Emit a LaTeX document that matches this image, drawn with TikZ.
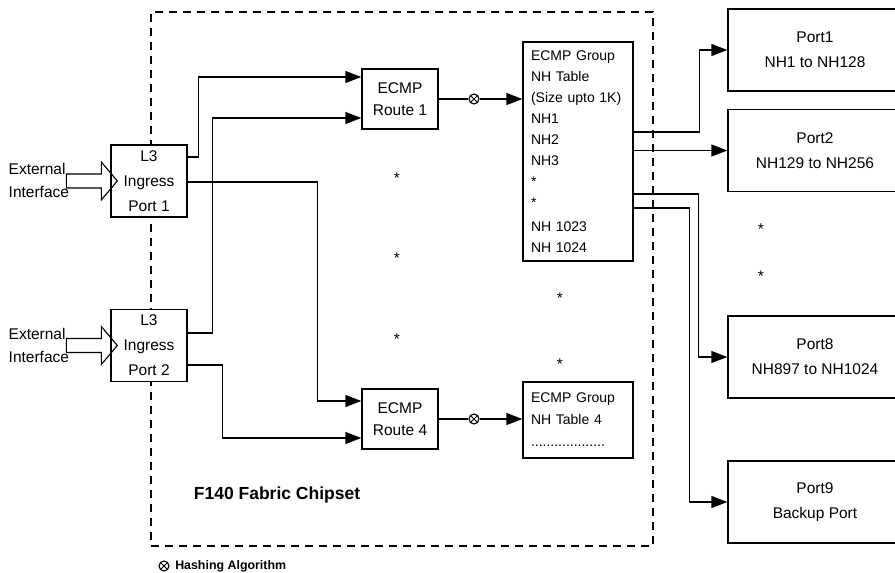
\documentclass[tikz,border=0pt]{standalone}
\usepackage{fontspec}
\setmainfont{Liberation Sans}
\usetikzlibrary{positioning, arrows.meta, calc}
\newcommand{\fsz}[2]{\fontsize{#1}{#2}\selectfont}
\newcommand{\extarrow}[1]{
  \draw[line width=1.1pt] ($(#1.west)+(-44,-7)$) -- ++(35,0) -- ++(0,-12) -- ($(#1.west)+(7,0)$)
    -- ++(-16,19) -- ++(0,-12) -- ++(-35,0) -- cycle;
}

\begin{document}
\begin{tikzpicture}[
    x=1pt, y=-1pt,
    line width=1.4pt,
    >={Triangle[length=16pt,width=12pt]},
    box/.style={draw, fill=white, line width=1.4pt, inner sep=0pt, align=center, font=\fsz{15.5}{25}},
    ingress/.style={box, minimum width=76pt, minimum height=72pt},
    route/.style={box, minimum width=76pt, minimum height=60pt, font=\fsz{15.5}{22}},
    nhtable/.style={box, align=left, text width=94pt, inner xsep=8pt, font=\fsz{14}{21}},
    port/.style={box, minimum width=174pt, minimum height=82pt},
    hash/.style={draw, fill=white, circle, line width=1.1pt, minimum size=10pt, inner sep=0pt,
      path picture={\draw[line width=0.9pt] (path picture bounding box.north west) -- (path picture bounding box.south east)
        (path picture bounding box.north east) -- (path picture bounding box.south west);}},
    lbl/.style={font=\fsz{15.5}{23}, align=left, inner sep=0pt},
    etc/.style={font=\fsz{15.5}{16}, inner sep=0pt},
    chipframe/.style={draw, line width=1.4pt, dash pattern=on 8pt off 6pt, minimum width=502pt, minimum height=534pt},
    arrow/.style={->},
]
\clip (0,0) rectangle (895,573);

% ------------------------------------------------------------- chipset ---
\node[chipframe] (chip) at (402,279) {};
\node[font=\bfseries\fsz{17.5}{20}] (chiplbl) at (277,495) {F140 Fabric Chipset};

% ------------------------------------------------------ ingress ports ---
\node[ingress] (in1) at (149,181) {L3\\Ingress\\Port 1};
\node[ingress] (in2) at (149,345.5) {L3\\Ingress\\Port 2};
\extarrow{in1}
\extarrow{in2}
\node[lbl, anchor=west] (ext1) at (8,180.5) {External\\Interface};
\node[lbl, anchor=west] (ext2) at (8,345) {External\\Interface};

% -------------------------------------------------------- ECMP routes ---
\node[route] (r1) at (400,99) {ECMP\\Route 1};
\node[route] (r4) at (400,419) {ECMP\\Route 4};
\node[etc] (e1) at (397,178) {*};
\node[etc] (e2) at (397,258) {*};
\node[etc] (e3) at (397,339) {*};

\draw[arrow] ([yshift=24pt]in1.east) -- ++(11,0) |- ([yshift=22pt]r1.west);
\draw[arrow] ([yshift=-1pt]in1.east) -- ++(130,0) |- ([yshift=18pt]r4.west);
\draw[arrow] ([yshift=12.5pt]in2.east) -- ++(25,0) |- ([yshift=-19pt]r1.west);
\draw[arrow] ([yshift=-19.5pt]in2.east) -- ++(35,0) |- ([yshift=-19pt]r4.west);

% ---------------------------------------------------- NH group tables ---
\node[nhtable, minimum height=219pt] (t1) at (578,151.5)
  {ECMP Group\\NH Table\\(Size upto 1K)\\NH1\\NH2\\NH3\\{*}\\{*}\\[3pt]NH 1023\\NH 1024};
\node[nhtable, minimum height=76pt, font=\fsz{14}{22}] (t4) at (578,420) {ECMP Group\\NH Table 4\\...................};
\node[etc] (e4) at (560,298) {*};
\node[etc] (e5) at (560,364) {*};

\node[hash] (h1) at (474,99) {};
\node[hash] (h4) at (474,419) {};
\draw (r1) -- (h1);
\draw[arrow] (h1) -- (h1 -| t1.west);
\draw (r4) -- (h4);
\draw[arrow] (h4) -- (h4 -| t4.west);

% -------------------------------------------------------- egress ports ---
\node[port] (p1) at (815,50) {Port1\\NH1 to NH128};
\node[port] (p2) at (815,150.5) {Port2\\NH129 to NH256};
\node[port] (p8) at (815,357) {Port8\\NH897 to NH1024};
\node[port] (p9) at (815,502) {Port9\\Backup Port};
\node[etc] (e6) at (761,229) {*};
\node[etc] (e7) at (761,276) {*};

\draw[arrow] ([yshift=19.5pt]t1.east) -- ++(66,0) |- (p1.west);
\draw[arrow] (t1.east |- p2.west) -- (p2.west);
\draw[arrow] ([yshift=-42.5pt]t1.east) -- ++(65,0) |- (p8.west);
\draw[arrow] ([yshift=-56.5pt]t1.east) -- ++(56,0) |- (p9.west);

% -------------------------------------------------------------- legend ---
\node[hash] (hkey) at (164,566) {};
\node[font=\bfseries\fsz{12.4}{14}, inner sep=0pt, right=5pt of hkey] (hkeylbl) {Hashing Algorithm};

\end{tikzpicture}
\end{document}
